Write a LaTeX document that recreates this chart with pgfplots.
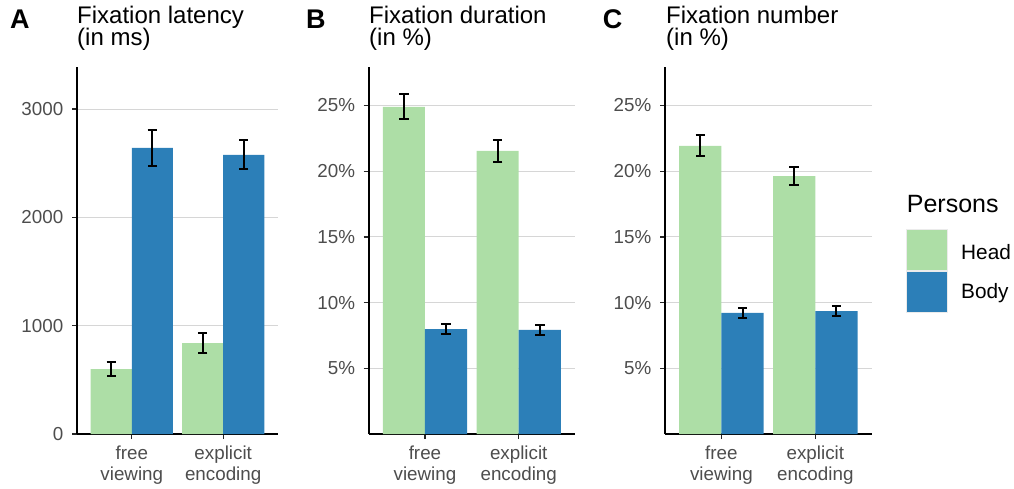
\documentclass[border=0pt]{standalone}
\usepackage{pgfplots}
\pgfplotsset{compat=1.18}
\usepackage{pgfplotstable}
\usepackage{fontspec}
\setmainfont{Liberation Sans}
\definecolor{headc}{HTML}{ADDEA6}
\definecolor{bodyc}{HTML}{2C7FB8}
\definecolor{gridc}{HTML}{D6D6D6}
\definecolor{tickc}{HTML}{4D4D4D}
\definecolor{keyc}{HTML}{EBEBEB}

% Panel A: latency (ms)
\pgfplotstableread{
x y e
-0.225 600 63
0.775 840 95
}\headA
\pgfplotstableread{
x y e
0.225 2641 168
1.225 2576 134
}\bodyA
% Panel B: duration (%)
\pgfplotstableread{
x y e
-0.225 24.89 0.95
0.775 21.54 0.83
}\headB
\pgfplotstableread{
x y e
0.225 7.99 0.36
1.225 7.92 0.36
}\bodyB
% Panel C: number (%)
\pgfplotstableread{
x y e
-0.225 21.92 0.80
0.775 19.63 0.68
}\headC
\pgfplotstableread{
x y e
0.225 9.21 0.38
1.225 9.36 0.37
}\bodyC

\pgfplotsset{
  panel/.style={
    set layers,
    scale only axis, height=367pt,
    axis x line*=bottom, axis y line*=left,
    axis line style={line width=1.6pt, black, on layer=axis foreground},
    xmin=-0.6, xmax=1.6, ymin=0,
    xtick={0,1}, xticklabels={free\\viewing, explicit\\encoding},
    xticklabel style={align=center, font=\fontsize{18.8}{20.5}\selectfont, text=tickc, inner sep=0pt, anchor=north, yshift=-7pt},
    yticklabel style={font=\fontsize{18.8}{20}\selectfont, text=tickc, inner sep=0pt, anchor=east, xshift=-8.5pt},
    tick style={line width=1.2pt, black!85},
    major tick length=5pt, tick align=outside,
    ymajorgrids, grid style={gridc, line width=0.9pt},
    ybar, bar width=0.45, bar shift=0pt,
  },
  headbar/.style={fill=headc, draw=none,
    error bars/.cd, y dir=both, y explicit,
    error bar style={line width=2pt, black},
    error mark options={rotate=90, mark size=4.7pt, line width=2pt, black}},
  bodybar/.style={fill=bodyc, draw=none,
    error bars/.cd, y dir=both, y explicit,
    error bar style={line width=2pt, black},
    error mark options={rotate=90, mark size=4.7pt, line width=2pt, black}},
}

\begin{document}
\begin{tikzpicture}
\path (0,0) rectangle (1014pt,488pt);

\begin{axis}[panel, at={(77pt,54pt)}, anchor=south west, width=201pt,
  ymax=3388, ytick={0,1000,2000,3000}, yticklabels={0,1000,2000,3000}]
\addplot[headbar] table[x=x, y=y, y error=e]{\headA};
\addplot[bodybar] table[x=x, y=y, y error=e]{\bodyA};
\end{axis}

\begin{axis}[panel, at={(368.7pt,54pt)}, anchor=south west, width=206.3pt,
  ymax=27.93, ytick={5,10,15,20,25}, yticklabels={5\%,10\%,15\%,20\%,25\%}]
\addplot[headbar] table[x=x, y=y, y error=e]{\headB};
\addplot[bodybar] table[x=x, y=y, y error=e]{\bodyB};
\end{axis}

\begin{axis}[panel, at={(665pt,54pt)}, anchor=south west, width=206.7pt,
  ymax=27.93, ytick={5,10,15,20,25}, yticklabels={5\%,10\%,15\%,20\%,25\%}]
\addplot[headbar] table[x=x, y=y, y error=e]{\headC};
\addplot[bodybar] table[x=x, y=y, y error=e]{\bodyC};
\end{axis}

% panel letters and titles
\foreach \L/\lx/\tx/\ta/\tb in {A/10/77/Fixation latency/(in ms), B/306/369/Fixation duration/(in \%), C/602.7/666/Fixation number/(in \%)}{
  \node[anchor=base west, inner sep=0pt, font=\fontsize{27}{27}\selectfont\bfseries] at (\lx pt, 459.7pt) {\L};
  \node[anchor=base west, inner sep=0pt, font=\fontsize{24}{24}\selectfont] at (\tx pt, 464.5pt) {\ta};
  \node[anchor=base west, inner sep=0pt, font=\fontsize{24}{24}\selectfont] at (\tx pt, 442pt) {\tb};
}

% legend
\fill[keyc] (905.5pt,488pt-313pt) rectangle (948pt,488pt-228.5pt);
\fill[headc] (906.7pt,488pt-270.3pt) rectangle (946.7pt,488pt-230pt);
\fill[bodyc] (906.7pt,488pt-311.7pt) rectangle (946.7pt,488pt-271.7pt);
\node[anchor=base west, inner sep=0pt, font=\fontsize{25}{25}\selectfont] at (906.7pt,488pt-212.7pt) {Persons};
\node[anchor=base west, inner sep=0pt, font=\fontsize{20.8}{21}\selectfont] at (961pt,488pt-259pt) {Head};
\node[anchor=base west, inner sep=0pt, font=\fontsize{20.8}{21}\selectfont] at (961pt,488pt-298pt) {Body};
\end{tikzpicture}
\end{document}
